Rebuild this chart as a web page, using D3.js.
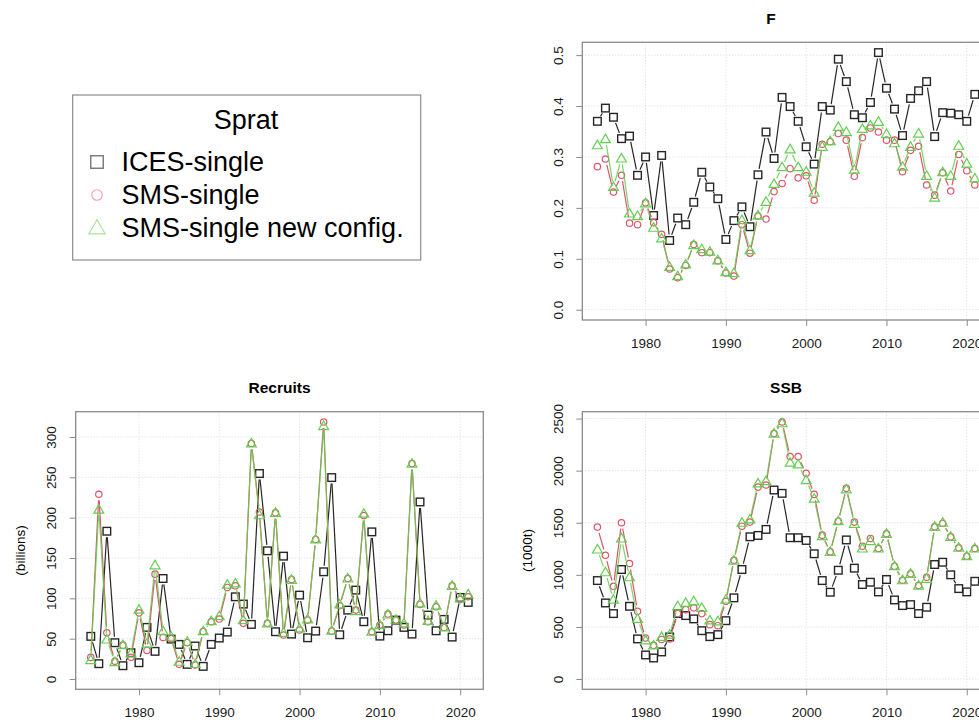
<!DOCTYPE html>
<html><head><meta charset="utf-8">
<script src="https://cdn.jsdelivr.net/npm/d3@7"></script>
<style>body{margin:0;background:#fff}svg{display:block;font-family:"Liberation Sans",Arial,sans-serif}</style>
</head><body><svg id="c" width="979" height="722"></svg>
<script>
const years = [1974,1975,1976,1977,1978,1979,1980,1981,1982,1983,1984,1985,1986,1987,1988,1989,1990,1991,1992,1993,1994,1995,1996,1997,1998,1999,2000,2001,2002,2003,2004,2005,2006,2007,2008,2009,2010,2011,2012,2013,2014,2015,2016,2017,2018,2019,2020,2021];
const seriesNames = ["ICES-single","SMS-single","SMS-single new config."];
const F_ices = [0.370,0.396,0.378,0.336,0.341,0.264,0.300,0.185,0.303,0.136,0.180,0.167,0.211,0.270,0.241,0.218,0.138,0.175,0.202,0.163,0.265,0.349,0.297,0.417,0.399,0.370,0.320,0.286,0.399,0.392,0.492,0.448,0.383,0.377,0.407,0.505,0.435,0.394,0.342,0.415,0.430,0.448,0.340,0.387,0.386,0.383,0.370,0.423];
const F_sms = [0.281,0.296,0.231,0.264,0.170,0.167,0.210,0.171,0.148,0.080,0.063,0.087,0.128,0.112,0.112,0.096,0.072,0.066,0.167,0.111,0.184,0.178,0.232,0.248,0.277,0.259,0.263,0.215,0.325,0.330,0.346,0.333,0.262,0.338,0.357,0.349,0.333,0.333,0.271,0.313,0.321,0.245,0.225,0.269,0.233,0.305,0.273,0.245];
const F_new = [0.323,0.335,0.241,0.297,0.189,0.184,0.209,0.161,0.140,0.084,0.066,0.089,0.127,0.119,0.114,0.097,0.074,0.072,0.176,0.117,0.185,0.212,0.247,0.280,0.315,0.280,0.271,0.230,0.320,0.331,0.359,0.349,0.275,0.355,0.362,0.369,0.345,0.327,0.281,0.320,0.346,0.263,0.220,0.270,0.263,0.322,0.287,0.258];
const R_ices = [52.9,19,183.2,45,16.5,32.6,20.2,64,34.3,124.6,49.5,42.9,18.2,40.9,15.7,42.9,50.8,58.2,101.9,92.9,67.7,254.7,158.9,58.6,152.3,55.7,104,51.1,59.4,132.9,249.7,54.9,85.4,110.2,71,182.4,53.2,59.8,73,64,55.7,219.5,79.2,59.8,73.9,52,101.1,95];
const R_sms = [26.8,229,57.3,22,42,27,82,35.5,130,51.6,50,18.2,45,17.3,59,71,74.3,113.5,115.5,69,292,207,69,206,54.5,123.4,60.7,73,173,318.6,59.4,90.8,124.6,85.4,202.6,58.6,66.9,80.5,73,67,267,92.5,71,89.5,64,115.5,98.7,102];
const R_new = [23.5,210,49,21,42,31.8,86,44,141,59.4,52.4,21.4,46.2,18.6,59.4,71.8,78,117,118.5,73,292,203,69,206,57.3,123,62.7,74,173,313.6,60,92.5,124.6,84.2,205,58.6,66.9,80,73.5,69,267,93.7,72,91,64,115.5,100,104.8];
const S_ices = [945,730,628,1051,698,385,231,202,260,404,628,609,577,464,407,426,560,779,1051,1365,1378,1436,1814,1782,1356,1356,1330,1202,945,833,1044,1335,1064,907,929,836,955,759,705,714,628,689,1099,1121,1000,868,836,938];
const S_sms = [1458,1188,890,1500,1109,650,394,323,380,385,628,666,683,628,522,512,746,1140,1467,1506,1842,1862,2356,2467,2135,2135,1974,1772,1381,1221,1515,1830,1506,1275,1349,1253,1394,1083,948,1010,897,977,1461,1495,1365,1260,1179,1253];
const S_new = [1243,1025,762,1349,977,577,371,323,404,426,698,731,746,683,563,554,762,1137,1500,1532,1878,1900,2356,2455,2077,2060,1910,1731,1371,1221,1515,1820,1490,1253,1323,1253,1394,1083,948,1010,897,962,1461,1500,1365,1260,1179,1253];
const xTicks = [1980,1990,2000,2010,2020];
const F_ticks = [0,0.1,0.2,0.3,0.4,0.5];
const R_ticks = [0,50,100,150,200,250,300];
const S_ticks = [0,500,1000,1500,2000,2500];

const COLS = ["#262626","#DF536B","#61D04F"];
const svg = d3.select("#c");
svg.append("rect").attr("width",979).attr("height",722).attr("fill","#fff");

function sym(g, type, x, y, col, s){
  if(type===0) g.append("rect").attr("x",x-s/2).attr("y",y-s/2).attr("width",s).attr("height",s).attr("fill","none").attr("stroke",col).attr("stroke-width",1.4);
  else if(type===1) g.append("circle").attr("cx",x).attr("cy",y).attr("r",s*0.42).attr("fill","none").attr("stroke",col).attr("stroke-width",1.2);
  else { const h=s*1.1, w=s*1.3;
    g.append("path").attr("d",`M${x-w/2},${y+h*0.42}L${x+w/2},${y+h*0.42}L${x},${y-h*0.6}Z`).attr("fill","none").attr("stroke",col).attr("stroke-width",1.2); }
}

function panel(o){
  const x = d3.scaleLinear().domain([1972.12,2022.88]).range([o.left,o.left+407.6]);
  const ymax = d3.max([...o.data[0],...o.data[1],...o.data[2]]);
  const y = d3.scaleLinear().domain([-0.04*ymax,1.04*ymax]).range([o.bottom,o.top]);
  const g = svg.append("g");
  const grid = g.append("g").attr("stroke","#d9d9d9").attr("stroke-width",1).attr("stroke-dasharray","1,2");
  xTicks.forEach(t=>grid.append("line").attr("x1",x(t)).attr("x2",x(t)).attr("y1",o.top).attr("y2",o.bottom));
  o.ticks.forEach(t=>grid.append("line").attr("x1",o.left).attr("x2",o.left+407.6).attr("y1",y(t)).attr("y2",y(t)));
  const xa = g.append("g").attr("transform",`translate(0,${o.bottom})`).call(d3.axisBottom(x).tickValues(xTicks).tickFormat(d3.format("d")).tickSize(6).tickPadding(10));
  const ya = g.append("g").attr("transform",`translate(${o.left},0)`).call(d3.axisLeft(y).tickValues(o.ticks).tickFormat(o.fmt).tickSize(6));
  [xa,ya].forEach(a=>{a.select(".domain").remove();a.selectAll("line").attr("stroke","#8a8a8a");a.selectAll("text").attr("font-size","13.5px").attr("fill","#1a1a1a").attr("font-family","Liberation Sans, Arial, sans-serif");});
  ya.selectAll("text").attr("text-anchor","middle").attr("x",null).attr("y",null).attr("dy","0.35em").attr("transform","translate(-24.5,0) rotate(-90)");
  xa.selectAll("text").attr("dy","0.9em");
  g.append("rect").attr("x",o.left).attr("y",o.top).attr("width",407.6).attr("height",o.bottom-o.top).attr("fill","none").attr("stroke","#8a8a8a").attr("stroke-width",1.3);
  g.append("text").attr("x",o.titleX).attr("y",(o.top-24)).attr("text-anchor","middle").attr("dy","0.35em").attr("font-weight","bold").attr("font-size","15.5px").text(o.title);
  if(o.ylab) g.append("text").attr("transform",`translate(${o.left-55},${(o.top+o.bottom)/2}) rotate(-90)`).attr("text-anchor","middle").attr("dy","0.35em").attr("font-size","13.5px").text(o.ylab);
  o.data.forEach((arr,si)=>{
    const sg = g.append("g");
    const pts = arr.map((v,i)=>[x(years[i]),y(v)]);
    const gap = 6;
    for(let i=0;i<pts.length-1;i++){
      const [x1,y1]=pts[i],[x2,y2]=pts[i+1];
      const dx=x2-x1, dy=y2-y1, L=Math.hypot(dx,dy);
      if(L<=2*gap) continue;
      const ux=dx/L, uy=dy/L;
      sg.append("line").attr("x1",x1+ux*gap).attr("y1",y1+uy*gap).attr("x2",x2-ux*gap).attr("y2",y2-uy*gap)
        .attr("stroke",COLS[si]).attr("stroke-width",1.2).attr("opacity",si===2?0.85:1);
    }
    pts.forEach(p=>sym(sg,si,p[0],p[1],COLS[si],si===0?7.6:7.6));
  });
}

panel({left:582.3,top:42.3,bottom:320,data:[F_ices,F_sms,F_new],ticks:F_ticks,fmt:d3.format(".1f"),title:"F",titleX:771});
panel({left:75.7,top:411.7,bottom:689.3,data:[R_ices,R_sms,R_new],ticks:R_ticks,fmt:d3.format("d"),title:"Recruits",titleX:279.5,ylab:"(billions)"});
panel({left:582.3,top:411.7,bottom:689.3,data:[S_ices,S_sms,S_new],ticks:S_ticks,fmt:d3.format("d"),title:"SSB",titleX:786,ylab:"(1000t)"});

const lg = svg.append("g");
lg.append("rect").attr("x",72.7).attr("y",95).attr("width",348).attr("height",165).attr("fill","#fff").attr("stroke","#8a8a8a").attr("stroke-width",1.2);
lg.append("text").attr("x",246).attr("y",120).attr("dy","0.35em").attr("text-anchor","middle").attr("font-size","27px").text("Sprat");
const legCols = ["#777","#f3a3b1","#a9e29d"];
seriesNames.forEach((n,i)=>{
  const cy = 162+i*33;
  sym(lg,i,97,cy,legCols[i],12.5);
  lg.append("text").attr("x",121.5).attr("y",cy).attr("dy","0.35em").attr("font-size","27px").text(n);
});
</script></body></html>
